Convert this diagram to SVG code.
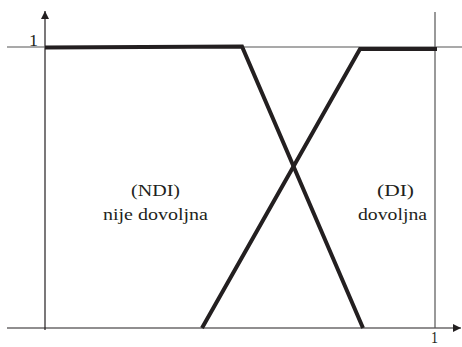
<svg xmlns="http://www.w3.org/2000/svg" width="462" height="347" viewBox="0 0 462 347">
<style>
.thin{stroke:#555;stroke-width:1.2;fill:none}
.axis{stroke:#231f20;stroke-width:1.2;fill:none}
.thick{stroke:#231f20;stroke-width:4;fill:none;stroke-linejoin:miter}
.lbl{font-family:"Liberation Serif","Times New Roman",serif;font-size:16.5px;fill:#231f20}
</style>
<defs>
<marker id="ah" viewBox="0 0 10 10" refX="10" refY="5" markerWidth="8" markerHeight="8" markerUnits="userSpaceOnUse" orient="auto"><path d="M0,0 L10,5 L0,10 z" fill="#231f20"/></marker>
</defs>
<g id="axes">
<line class="axis" x1="45" y1="330" x2="45" y2="11" marker-end="url(#ah)"/>
<line class="axis" x1="7" y1="328" x2="461" y2="328" marker-end="url(#ah)"/>
<line class="thin" x1="7" y1="47" x2="462" y2="47"/>
<line class="thin" x1="435" y1="12" x2="435" y2="328"/>
<text class="lbl" x="29" y="46" textLength="9" lengthAdjust="spacingAndGlyphs">1</text>
<text class="lbl" x="431" y="343" font-size="14" textLength="7" lengthAdjust="spacingAndGlyphs">1</text>
</g>
<g id="connectors">
<polyline class="thick" points="45,47.5 242,46.5 363,328"/>
<polyline class="thick" points="202,328 360,49 437,49"/>
</g>
<g id="NDI">
<text class="lbl" x="131" y="196" textLength="49" lengthAdjust="spacingAndGlyphs">(NDI)</text>
<text class="lbl" x="103" y="220" textLength="105" lengthAdjust="spacingAndGlyphs">nije dovoljna</text>
</g>
<g id="DI">
<text class="lbl" x="377" y="196" textLength="37" lengthAdjust="spacingAndGlyphs">(DI)</text>
<text class="lbl" x="358" y="220" textLength="69" lengthAdjust="spacingAndGlyphs">dovoljna</text>
</g>
</svg>
